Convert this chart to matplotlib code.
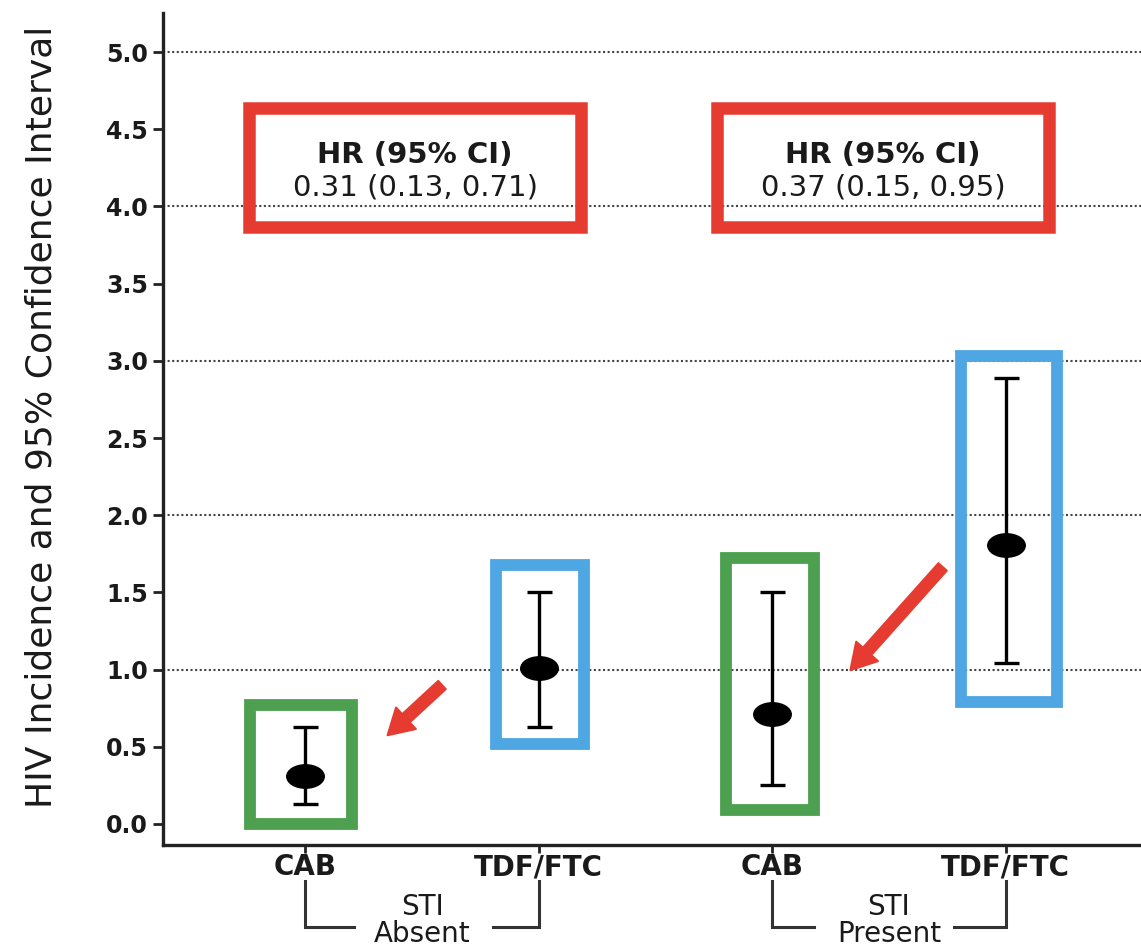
import matplotlib
matplotlib.use("Agg")
import matplotlib.pyplot as plt
from matplotlib.patches import Rectangle
from matplotlib.path import Path
from matplotlib.transforms import Affine2D

# Incidence per 100 person-years by arm and STI status
groups = ["CAB", "TDF/FTC", "CAB", "TDF/FTC"]
sti_status = ["Absent", "Present"]
incidence = [0.31, 1.01, 0.71, 1.81]
ci_low = [0.13, 0.63, 0.25, 1.04]
ci_high = [0.63, 1.50, 1.50, 2.89]

# Hazard ratios CAB vs TDF/FTC within each STI stratum
hr = [0.31, 0.37]
hr_low = [0.13, 0.15]
hr_high = [0.71, 0.95]

RED = "#E63B30"
GREEN = "#4CA04F"
BLUE = "#4EA6E3"

x = [1, 2, 3, 4]

fig = plt.figure(figsize=(11.41, 9.49), dpi=100)
ax = fig.add_axes([0.1429, 0.1096, 0.8571, 0.8767])
ax.set_xlim(0.39, 4.58)
ax.set_ylim(-0.136, 5.253)

# dotted reference lines at whole numbers
for yv in [1, 2, 3, 4, 5]:
    ax.axhline(yv, color="#444444", linewidth=1.5, linestyle=(0, (1.0, 1.2)),
               zorder=1)

# highlight boxes around each estimate
arm_boxes = [
    (0.764, 0.00, 1.200, 0.77, GREEN),
    (1.815, 0.52, 2.193, 1.68, BLUE),
    (2.800, 0.09, 3.180, 1.72, GREEN),
    (3.810, 0.79, 4.220, 3.03, BLUE),
]
for x0, y0, x1, y1, c in arm_boxes:
    ax.add_patch(Rectangle((x0, y0), x1 - x0, y1 - y0, fill=False,
                           edgecolor=c, linewidth=8.5, joinstyle="miter",
                           zorder=3))

# HR boxes with text
hr_boxes = [(0.76, 2.18), (2.764, 4.185)]
for (x0, x1), h, lo, hi in zip(hr_boxes, hr, hr_low, hr_high):
    ax.add_patch(Rectangle((x0, 3.87), x1 - x0, 4.64 - 3.87, fill=False,
                           edgecolor=RED, linewidth=9, joinstyle="miter",
                           zorder=3))
    xc = (x0 + x1) / 2
    ax.text(xc, 4.33, "HR (95% CI)", ha="center", va="center",
            fontsize=21, fontweight="bold", color="#1a1a1a", zorder=4)
    ax.text(xc, 4.12, f"{h:.2f} ({lo:.2f}, {hi:.2f})", ha="center",
            va="center", fontsize=21, color="#1a1a1a", zorder=4)

# point estimates with 95% CI
yerr = [[m - lo for m, lo in zip(incidence, ci_low)],
        [hi - m for m, hi in zip(incidence, ci_high)]]
ax.errorbar(x, incidence, yerr=yerr, fmt="none", ecolor="black",
            elinewidth=2.4, capsize=9, capthick=2.4, zorder=4)
ellipse = Path.unit_circle().transformed(Affine2D().scale(1.6, 1.0))
ax.plot(x, incidence, linestyle="none", marker=ellipse, markersize=27,
        color="black", zorder=5)

# red arrows from TDF/FTC toward CAB
arrows = [((1.585, 0.90), (1.352, 0.575)), ((3.73, 1.665), (3.335, 0.997))]
for tail, tip in arrows:
    ax.annotate("", xy=tip, xytext=tail,
                arrowprops=dict(arrowstyle="simple,head_length=1.8,"
                                "head_width=2.1,tail_width=0.8",
                                color=RED, shrinkA=0, shrinkB=0,
                                mutation_scale=10, linewidth=1.5,
                                joinstyle="round", capstyle="round"),
                zorder=5)

# axes styling
for side in ["top", "right"]:
    ax.spines[side].set_visible(False)
for side in ["left", "bottom"]:
    ax.spines[side].set_linewidth(2.4)
    ax.spines[side].set_color("#222222")

ax.set_yticks([i * 0.5 for i in range(11)])
ax.set_yticklabels([f"{i * 0.5:.1f}" for i in range(11)])
ax.tick_params(axis="y", labelsize=17, width=2, length=7, pad=4,
               color="#222222")
ax.set_xticks(x)
ax.set_xticklabels(groups)
ax.tick_params(axis="x", labelsize=20, width=2, length=6, pad=0,
               color="#222222")
for lab in ax.get_yticklabels() + ax.get_xticklabels():
    lab.set_fontweight("bold")
    lab.set_color("#1a1a1a")

ax.set_ylabel("HIV Incidence and 95% Confidence Interval", fontsize=26,
              color="#1a1a1a")
ax.yaxis.set_label_coords(-0.107, 0.515)

# STI strata brackets under the tick labels
brackets = [(1, 2, 1.206, 1.803), (3, 4, 3.18, 3.78)]
for (xa, xb, ga, gb), status in zip(brackets, sti_status):
    kw = dict(color="#333333", linewidth=2.2, clip_on=False,
              solid_joinstyle="miter")
    ax.plot([xa, xa, ga], [-0.37, -0.67, -0.67], **kw)
    ax.plot([gb, xb, xb], [-0.67, -0.67, -0.37], **kw)
    xc = (xa + xb) / 2
    ax.text(xc, -0.535, "STI", ha="center", va="center", fontsize=20,
            color="#1a1a1a", clip_on=False)
    ax.text(xc, -0.71, status, ha="center", va="center", fontsize=20,
            color="#1a1a1a", clip_on=False)

fig.savefig("out.png", dpi=100)
